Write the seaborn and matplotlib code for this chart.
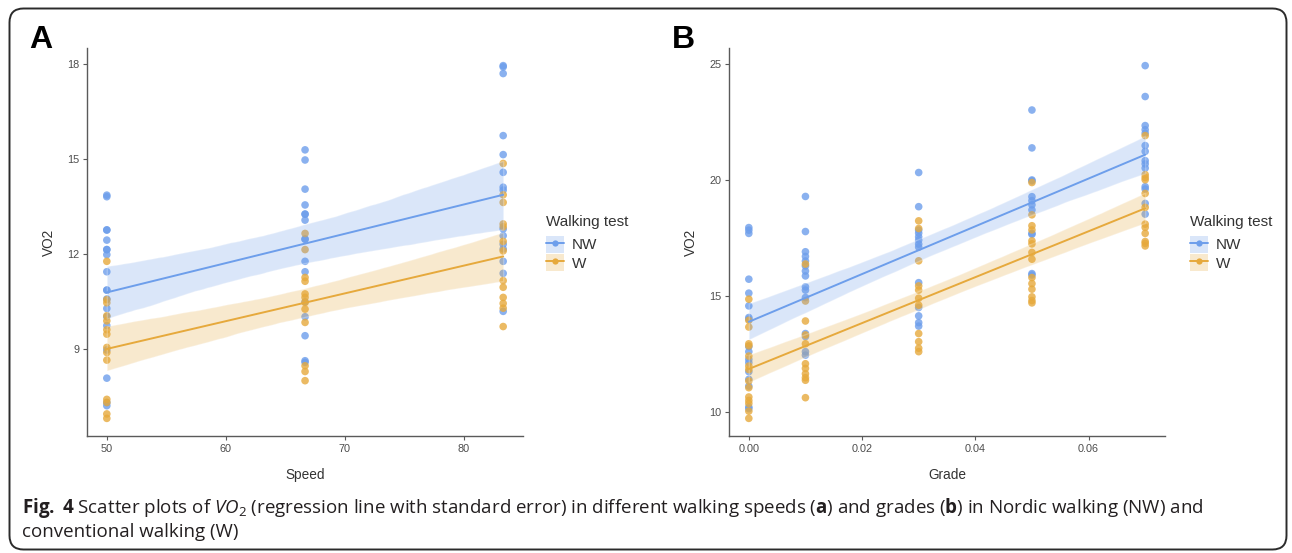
import numpy as np
import pandas as pd
import matplotlib
matplotlib.use("Agg")
import matplotlib.pyplot as plt
import seaborn as sns
from matplotlib.patches import FancyBboxPatch, Patch
from matplotlib.lines import Line2D
from matplotlib.legend_handler import HandlerTuple
from matplotlib.collections import PolyCollection

# ---------------- data ----------------
speed_levels = [50.0, 66.67, 83.33]
nw_speed50 = [13.85, 13.80, 12.75, 12.75, 12.43, 12.13, 12.13, 11.97, 11.43, 10.85, 10.85,
              10.57, 10.27, 10.01, 9.73, 8.96, 8.07, 7.30, 7.20]
w_speed50 = [11.76, 10.55, 10.45, 10.04, 9.88, 9.60, 9.46, 9.04, 8.88, 8.64, 7.40, 7.30, 6.94, 6.80]
nw_speed67 = [15.28, 14.96, 14.04, 13.54, 13.25, 13.25, 13.06, 12.46, 12.46, 11.76, 11.43,
              10.48, 10.01, 9.41, 8.62, 8.57]
w_speed67 = [12.64, 12.13, 11.25, 11.13, 10.73, 10.62, 10.46, 10.25, 9.83, 8.46, 8.28, 7.99]
nw_speed83 = [17.94, 17.90, 17.69, 15.73, 15.13, 14.57, 14.10, 14.01, 12.78, 12.57, 12.30,
              12.15, 11.76, 11.38, 10.18]
w_speed83 = [14.85, 13.86, 13.62, 12.94, 12.85, 12.39, 12.09, 11.15, 10.94, 10.62, 10.43, 10.28, 9.70]

grade_levels = [0.00, 0.01, 0.03, 0.05, 0.07]
nw_grade0 = [17.94, 17.83, 17.69, 15.72, 15.12, 14.57, 14.07, 14.00, 12.82, 12.60, 12.27,
             12.13, 11.74, 11.41, 11.12, 10.22, 10.15]
w_grade0 = [14.86, 13.95, 13.66, 12.94, 12.85, 12.41, 11.98, 11.83, 11.34, 11.05, 10.65,
            10.50, 10.37, 10.04, 9.73]
nw_grade1 = [19.28, 17.77, 16.90, 16.70, 16.50, 16.29, 16.07, 15.86, 15.39, 15.25, 14.93,
             13.38, 13.25, 12.60, 12.45]
w_grade1 = [16.37, 14.78, 13.92, 13.32, 12.94, 12.08, 11.88, 11.65, 11.48, 11.37, 10.62]
nw_grade3 = [20.31, 18.84, 17.83, 17.70, 17.54, 17.40, 17.23, 17.10, 15.57, 14.50, 14.14, 13.85, 13.70]
w_grade3 = [18.23, 17.90, 16.51, 15.43, 15.25, 14.90, 14.60, 13.38, 13.03, 12.75, 12.60]
nw_grade5 = [23.00, 21.37, 19.99, 19.95, 19.27, 19.10, 18.92, 18.70, 17.69, 17.65, 15.96, 15.90]
w_grade5 = [19.88, 18.49, 18.02, 17.84, 17.37, 17.24, 16.87, 16.58, 15.79, 15.53, 15.29,
            14.96, 14.80, 14.70]
nw_grade7 = [24.91, 23.58, 22.33, 22.15, 22.00, 21.47, 21.22, 20.82, 20.68, 20.50, 19.70,
             19.60, 18.98, 18.52]
w_grade7 = [21.90, 20.22, 20.10, 20.00, 19.41, 18.81, 18.09, 17.95, 17.69, 17.34, 17.26, 17.15]

groups = ["NW", "W"]
speed_ticks = [50, 60, 70, 80]
speed_yticks = [9, 12, 15, 18]
grade_ticks = [0.00, 0.02, 0.04, 0.06]
grade_tick_labels = ["0.00", "0.02", "0.04", "0.06"]
grade_yticks = [10, 15, 20, 25]
caption_line1 = (r"$\mathbf{Fig.}$ $\mathbf{4}$ Scatter plots of $\mathit{VO}_\mathrm{2}$ (regression line with "
                 r"standard error) in different walking speeds ($\mathbf{a}$) and grades "
                 r"($\mathbf{b}$) in Nordic walking (NW) and")
caption_line2 = "conventional walking (W)"


def build(levels, nw_lists, w_lists, xname):
    rows = []
    for lvl, vals in zip(levels, nw_lists):
        rows += [(lvl, v, "NW") for v in vals]
    for lvl, vals in zip(levels, w_lists):
        rows += [(lvl, v, "W") for v in vals]
    return pd.DataFrame(rows, columns=[xname, "VO2", "Walking test"])


df_speed = build(speed_levels, [nw_speed50, nw_speed67, nw_speed83],
                 [w_speed50, w_speed67, w_speed83], "Speed")
df_grade = build(grade_levels, [nw_grade0, nw_grade1, nw_grade3, nw_grade5, nw_grade7],
                 [w_grade0, w_grade1, w_grade3, w_grade5, w_grade7], "Grade")

# ---------------- style ----------------
sns.set_style("white")
plt.rcParams["font.family"] = ["Liberation Sans", "DejaVu Sans"]
plt.rcParams["mathtext.fontset"] = "custom"
plt.rcParams["mathtext.rm"] = "Open Sans"
plt.rcParams["mathtext.it"] = "Open Sans:italic"
plt.rcParams["mathtext.bf"] = "Open Sans:bold"

palette = {"NW": "#6D9EEB", "W": "#E6A93C"}
W_PX, H_PX = 1292, 553
fig = plt.figure(figsize=(W_PX / 100, H_PX / 100), dpi=100)
fig.patch.set_facecolor("white")


def px_axes(l, t, r, b):
    return fig.add_axes([l / W_PX, 1 - b / H_PX, (r - l) / W_PX, (b - t) / H_PX])


def draw_panel(ax, df, xname, xticks, xticklabels, yticks, seed):
    sns.scatterplot(data=df, x=xname, y="VO2", hue="Walking test", palette=palette,
                    hue_order=groups, s=30, alpha=0.8, linewidth=0, ax=ax, legend=False,
                    zorder=2)
    for g in groups:
        sub = df[df["Walking test"] == g]
        sns.regplot(data=sub, x=xname, y="VO2", scatter=False, ci=95, n_boot=2000, seed=seed,
                    color=palette[g], line_kws={"lw": 1.4, "zorder": 4}, ax=ax, truncate=True)
    for c in ax.collections:
        if isinstance(c, PolyCollection):
            c.set_alpha(0.25)
            c.set_zorder(3)
    xv, yv = df[xname], df["VO2"]
    xr, yr = xv.max() - xv.min(), yv.max() - yv.min()
    ax.set_xlim(xv.min() - 0.05 * xr, xv.max() + 0.05 * xr)
    ax.set_ylim(yv.min() - 0.05 * yr, yv.max() + 0.05 * yr)
    ax.set_xticks(xticks)
    ax.set_xticklabels(xticklabels)
    ax.set_yticks(yticks)
    ax.set_yticklabels([str(t) for t in yticks])
    for s in ["top", "right"]:
        ax.spines[s].set_visible(False)
    for s in ["left", "bottom"]:
        ax.spines[s].set_color("#5a5a5a")
        ax.spines[s].set_linewidth(1.0)
    ax.tick_params(axis="both", which="major", direction="out", length=3, width=0.8,
                   color="#5a5a5a", labelcolor="#4D4D4D", labelsize=7.8, pad=2.5,
                   bottom=True, left=True)
    ax.set_xlabel(xname, fontsize=9.8, color="#333333", labelpad=10)
    ax.set_ylabel("VO2", fontsize=9.8, color="#333333", labelpad=8)
    ax.set_facecolor("white")
    ax.grid(False)
    handles = []
    for g in groups:
        handles.append((Patch(facecolor=palette[g], alpha=0.25, edgecolor="none"),
                        Line2D([0], [0], color=palette[g], lw=1.4, marker="o", markersize=4.5,
                               markeredgewidth=0)))
    return handles


axA = px_axes(87, 48, 523, 436)
hA = draw_panel(axA, df_speed, "Speed", speed_ticks, [str(t) for t in speed_ticks],
                speed_yticks, 1)
axB = px_axes(729, 48, 1165, 436)
hB = draw_panel(axB, df_grade, "Grade", grade_ticks, grade_tick_labels, grade_yticks, 2)

for ax, h, lx in [(axA, hA, 546), (axB, hB, 1190)]:
    leg = ax.legend(h, groups, handler_map={tuple: HandlerTuple(ndivide=1, pad=0)},
                    title="Walking test", loc="upper left",
                    bbox_to_anchor=(lx / W_PX, 1 - 215 / H_PX), bbox_transform=fig.transFigure,
                    frameon=False, fontsize=11, title_fontsize=11, handlelength=1.15,
                    handleheight=1.3, handletextpad=0.55, labelspacing=0.12, borderpad=0,
                    borderaxespad=0)
    leg._legend_box.align = "left"
    leg._legend_box.sep = 5
    leg.get_title().set_color("#333333")
    for t in leg.get_texts():
        t.set_color("#333333")

# panel letters
fig.text(29 / W_PX, 1 - 48 / H_PX, "A", fontsize=23, fontweight="bold", color="black",
         va="baseline", ha="left")
fig.text(672 / W_PX, 1 - 48 / H_PX, "B", fontsize=23, fontweight="bold", color="black",
         va="baseline", ha="left")

# caption (fit first line to measured width)
cap1 = fig.text(22 / W_PX, 1 - 513 / H_PX, caption_line1, fontsize=12, family="Open Sans",
                color="#231F20", va="baseline", ha="left")
fig.canvas.draw()
w = cap1.get_window_extent(fig.canvas.get_renderer()).width
fs = 12 * 1181 / w
cap1.set_fontsize(fs)
fig.text(22 / W_PX, 1 - 537 / H_PX, caption_line2, fontsize=fs, family="Open Sans",
         color="#231F20", va="baseline", ha="left")

# rounded frame
frame_ax = fig.add_axes([0, 0, 1, 1], zorder=-1)
frame_ax.set_xlim(0, W_PX)
frame_ax.set_ylim(H_PX, 0)
frame_ax.axis("off")
frame_ax.add_patch(FancyBboxPatch((9.5, 8.5), 1277, 541, boxstyle="round,pad=0,rounding_size=14",
                                  facecolor="white", edgecolor="#2b2b2b", lw=1.4))

fig.savefig("out.png", dpi=100)
